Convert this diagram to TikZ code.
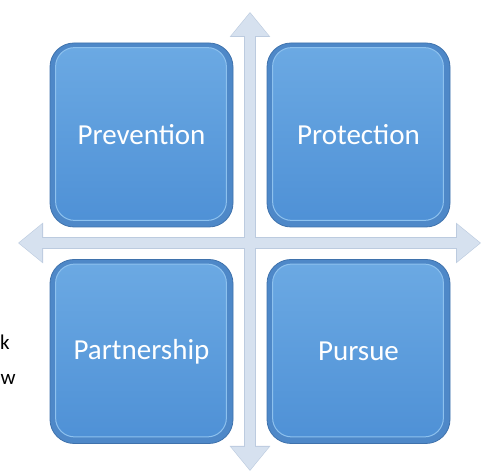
\documentclass[tikz,border=0pt]{standalone}
\usepackage{fontspec}
\setmainfont{Carlito}
\usepackage{tikz}
\usetikzlibrary{arrows.meta}
\usetikzlibrary{calc}

\definecolor{axisblue}{HTML}{D6E1EF}
\definecolor{axisrim}{HTML}{BCCBDF}
\definecolor{tilerim}{HTML}{4E88C8}
\definecolor{tileedge}{HTML}{3F72AC}
\definecolor{tiletop}{HTML}{6BA9E3}
\definecolor{tilebot}{HTML}{4F91D6}
\definecolor{tilehl}{HTML}{8DC1EE}

\begin{document}
\begin{tikzpicture}[x=1pt,y=1pt,
  axisline/.style={line width=10pt,color=axisblue,
    {Triangle[width=36pt,length=23pt]}-{Triangle[width=36pt,length=23pt]}},
  axisedge/.style={line width=12pt,color=axisrim,
    {Triangle[width=39pt,length=25pt]}-{Triangle[width=39pt,length=25pt]}},
  tile/.style={rounded corners=24pt,minimum width=183pt,minimum height=184pt,
    inner sep=0pt,fill=tilerim,draw=tileedge,line width=0.8pt},
  tileface/.style={rounded corners=19pt,top color=tiletop,bottom color=tilebot,
    draw=tilehl,line width=1pt},
  tiletext/.style={text=white,font=\fontsize{29}{34}\selectfont},
  cuttext/.style={anchor=base west,inner sep=0pt,font=\fontsize{21}{25}\selectfont}
  ]
  \clip (0,0) rectangle (488,471);

  % axes
  \coordinate (top) at (250,458);
  \coordinate (bottom) at (250,1);
  \coordinate (left) at (19,228);
  \coordinate (right) at (480,228);
  \draw[axisedge] ($(top)+(0,1)$) -- ($(bottom)+(0,-1)$);
  \draw[axisedge] ($(left)+(-1,0)$) -- ($(right)+(1,0)$);
  \draw[axisline] (top) -- (bottom);
  \draw[axisline] (left) -- (right);

  % the four tiles
  \foreach \nm/\x/\y/\txt in {prevention/141.5/336/Prevention,
      protection/358.5/336/Protection,
      partnership/141.5/119.5/Partnership,
      pursue/358.5/119.5/Pursue}{
    \node[tile] (\nm) at (\x,\y) {};
    \path[tileface] ($(\nm.south west)+(6,7)$) rectangle ($(\nm.north east)+(-7,-5)$);
    \node[tiletext] (\nm-label) at (\nm) {\txt};
  }

  % text fragments at the left edge
  \node[cuttext] (cutk) at (0,121) {k};
  \node[cuttext] (cutw) at (0.5,86) {w};
\end{tikzpicture}
\end{document}
